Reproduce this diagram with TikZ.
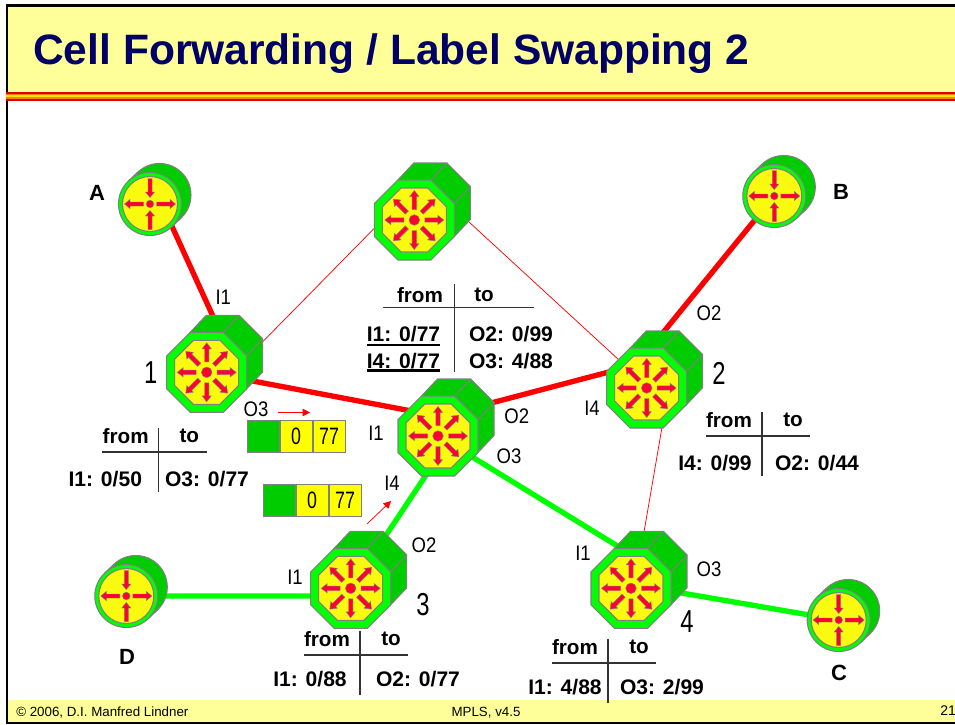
\documentclass[tikz,border=0pt]{standalone}
\usepackage{fontspec}
\setmainfont{Liberation Sans}
\newfontfamily\portfont[FakeStretch=0.88]{Liberation Sans}
\newfontfamily\numfont[FakeStretch=0.75]{Liberation Sans}
\usetikzlibrary{calc}
\usetikzlibrary{arrows.meta}
\definecolor{slideyellow}{RGB}{255,255,153}
\definecolor{titleblue}{RGB}{0,0,102}
\definecolor{boxgreen}{RGB}{0,204,0}
\definecolor{ringgreen}{RGB}{0,255,0}
\definecolor{faceyellow}{RGB}{250,250,15}
\definecolor{cellyel}{RGB}{255,255,0}
\definecolor{linkred}{RGB}{255,0,0}
\definecolor{edgegray}{RGB}{128,128,128}
\definecolor{arrowred}{RGB}{255,0,51}
\tikzset{
  thicklink/.style={line width=4pt},
  thinlink/.style={line width=0.55pt,linkred},
  portlabel/.style={font=\portfont\fontsize{15.8}{16}\selectfont,inner sep=0pt},
  numlabel/.style={font=\numfont\fontsize{23.8}{24}\selectfont,inner sep=0pt},
  hostlabel/.style={font=\bfseries\fontsize{16.5}{16}\selectfont,inner sep=0pt},
  tablehead/.style={font=\bfseries\fontsize{15.5}{15}\selectfont,inner sep=0pt},
  tablerow/.style={font=\bfseries\fontsize{15.8}{16}\selectfont,inner sep=0pt},
  tableline/.style={line width=0.8pt,black!80},
  cellgreen/.style={draw=edgegray,fill=boxgreen,line width=0.7pt,minimum width=24pt,minimum height=24pt,inner sep=0pt},
  cellyellow/.style={draw=edgegray,fill=cellyel,line width=0.7pt,minimum width=24pt,minimum height=24pt,inner sep=0pt,font=\numfont\fontsize{17.8}{18}\selectfont},
  footer/.style={font=\fontsize{10}{10}\selectfont,inner sep=0pt},
  arrowpart/.style={fill=arrowred,draw=edgegray,line width=0.35pt},
  swface/.pic={
    % back of the box
    \fill[boxgreen,draw=edgegray,line width=0.8pt]
      (-16.5,-40) -- (-0.5,-57) -- (32.5,-57) -- (56,-33.5) -- (56,-0.5) -- (40,16.5) -- (40,-16.5) -- (16.5,-40) -- cycle;
    \draw[edgegray,line width=0.8pt] (16.5,-40) -- (32.5,-57) (40,-16.5) -- (56,-33.5);
    % front ring
    \fill[ringgreen,draw=edgegray,line width=0.8pt]
      (-16.5,-40) -- (16.5,-40) -- (40,-16.5) -- (40,16.5) -- (16.5,40) -- (-16.5,40) -- (-40,16.5) -- (-40,-16.5) -- cycle;
    \fill[faceyellow,draw=edgegray,line width=0.8pt]
      (-13.2,-32) -- (13.2,-32) -- (32,-13.2) -- (32,13.2) -- (13.2,32) -- (-13.2,32) -- (-32,13.2) -- (-32,-13.2) -- cycle;
    \foreach \ang in {0,45,...,315}{
      \begin{scope}[rotate=\ang]
        \path[arrowpart]
          (10.5,-2.2) -- (23.5,-2.2) -- (23.5,-4.6) -- (29.5,0) -- (23.5,4.6) -- (23.5,2.2) -- (10.5,2.2) -- cycle;
      \end{scope}
    }
    \path[arrowpart] (0,0) circle (5.3);
  },
  hostface/.pic={
    \fill[boxgreen] (21.7,22.9) -- (31.2,13.9) -- (-12.2,-31.9) -- (-21.7,-22.9) -- cycle;
    \fill[boxgreen,draw=edgegray,line width=0.8pt] (9.5,-9) circle (31.5);
    \draw[edgegray,line width=0.8pt] (21.7,22.9) -- (31.2,13.9) (-12.2,-31.9) -- (-21.7,-22.9);
    \fill[ringgreen,draw=edgegray,line width=0.8pt] (0,0) circle (31.5);
    \fill[faceyellow,draw=edgegray,line width=0.8pt] (0,0) circle (27.5);
    \foreach \ang in {0,180}{
      \begin{scope}[rotate=\ang]
        \path[arrowpart]
          (6.5,-2) -- (20,-2) -- (20,-4.5) -- (25.5,0) -- (20,4.5) -- (20,2) -- (6.5,2) -- cycle;
      \end{scope}
    }
    \foreach \ang in {90,270}{
      \begin{scope}[rotate=\ang]
        \path[arrowpart]
          (25.5,-2) -- (12,-2) -- (12,-4.5) -- (6.5,0) -- (12,4.5) -- (12,2) -- (25.5,2) -- cycle;
      \end{scope}
    }
    \path[arrowpart] (0,0) circle (3.8);
  }
}
\begin{document}
\begin{tikzpicture}[x=0.75pt,y=-0.75pt]
  \useasboundingbox (0,0) rectangle (955,724);
  \fill[white] (0,0) rectangle (955,724);

  % slide
  \fill[slideyellow] (7,5) rectangle (955,92);
  \fill[slideyellow] (7,700) rectangle (955,722);
  \fill[black] (6,4) rectangle (955,6.7);
  \fill[black] (6,4) rectangle (8,724);
  \fill[black] (6,721.6) rectangle (955,724);
  \fill[linkred!85!black] (6,92) rectangle (955,100.7);
  \fill[orange] (6,93.7) rectangle (955,99);
  \fill[cellyel!80!orange] (6,95.3) rectangle (955,97.3);

  \node (title) [anchor=west,inner sep=0pt,text=titleblue,font=\bfseries\fontsize{31.9}{32}\selectfont] at (33,54) {Cell Forwarding / Label Swapping 2};
  \node (copy) [footer,anchor=west] at (16,713) {© 2006, D.I. Manfred Lindner};
  \node (version) [footer,anchor=center] at (486,713) {MPLS, v4.5};
  \node (page) [anchor=west,inner sep=0pt,font=\fontsize{10.5}{11}\selectfont] at (940,711) {21};

  % positions
  \coordinate (hostA) at (150,204);
  \coordinate (hostB) at (774.3,196);
  \coordinate (hostC) at (838.7,620);
  \coordinate (hostD) at (126.3,596);
  \coordinate (sw0) at (414.3,220);
  \coordinate (sw1) at (206.7,372.3);
  \coordinate (sw2) at (646.7,388);
  \coordinate (sw3) at (350.7,588.3);
  \coordinate (sw4) at (631,588.3);
  \coordinate (swM) at (438,436);

  % links
  \draw[thinlink] ($(sw0)+(-24,-8)$) -- ($(sw1)+(24,2)$);
  \draw[thinlink] ($(sw0)+(46,-6)$) -- ($(sw2)+(-6,-8)$);
  \draw[thinlink] ($(sw2)+(20,12)$) -- ($(sw4)+(9,-33)$);
  \draw[thicklink,linkred] ($(hostA)+(10,-4)$) -- ($(sw1)+(24,-17)$);
  \draw[thicklink,linkred] (sw1) -- ($(swM)+(0,-20)$);
  \draw[thicklink,linkred] ($(swM)+(0,-19)$) -- ($(sw2)+(0,-26)$);
  \draw[thicklink,linkred] ($(sw2)+(-6,-28)$) -- (hostB);
  \draw[thicklink,ringgreen] ($(swM)+(14,0)$) -- (sw3);
  \draw[thicklink,ringgreen] ($(sw3)+(0,7.7)$) -- (hostD);
  \draw[thicklink,ringgreen] (swM) -- ($(sw4)+(0,-34)$);
  \draw[thicklink,ringgreen] ($(sw4)+(0,-4)$) -- (hostC);

  % devices
  \pic at (hostA) {hostface};
  \pic at (hostB) {hostface};
  \pic at (hostC) {hostface};
  \pic at (hostD) {hostface};
  \pic at (sw0) {swface};
  \pic at (sw1) {swface};
  \pic at (sw2) {swface};
  \pic at (sw3) {swface};
  \pic at (sw4) {swface};
  \pic at (swM) {swface};

  % device labels
  \node (labA) [hostlabel] at (97,193) {A};
  \node (labB) [hostlabel] at (841,192) {B};
  \node (labC) [hostlabel] at (839,673) {C};
  \node (labD) [hostlabel] at (127,657) {D};
  \node (num1) [numlabel] at (150.7,373) {1};
  \node (num2) [numlabel] at (719,373) {2};
  \node (num3) [numlabel] at (423,605) {3};
  \node (num4) [numlabel] at (687,622) {4};

  % port labels
  \node (p1a) [portlabel] at (223.3,297) {I1};
  \node (p1b) [portlabel] at (256,409) {O3};
  \node (p2a) [portlabel] at (709,313) {O2};
  \node (p2b) [portlabel] at (592,408) {I4};
  \node (pMa) [portlabel] at (376,433) {I1};
  \node (pMb) [portlabel] at (516.7,416.7) {O2};
  \node (pMc) [portlabel] at (509,456) {O3};
  \node (pMd) [portlabel] at (392,483) {I4};
  \node (p3a) [portlabel] at (295,577) {I1};
  \node (p3b) [portlabel] at (424,545) {O2};
  \node (p4a) [portlabel] at (583,553) {I1};
  \node (p4b) [portlabel] at (709,569) {O3};

  % cells
  \node (cellAg) [cellgreen,anchor=north west] at (246.7,420) {};
  \node (cellAa) [cellyellow,anchor=west] at (cellAg.east) {0};
  \node (cellAb) [cellyellow,anchor=west] at (cellAa.east) {77};
  \node (cellBg) [cellgreen,anchor=north west] at (262.7,484) {};
  \node (cellBa) [cellyellow,anchor=west] at (cellBg.east) {0};
  \node (cellBb) [cellyellow,anchor=west] at (cellBa.east) {77};
  \coordinate (arrAs) at (278,412.5);
  \coordinate (arrAe) at (310,412.5);
  \coordinate (arrBs) at (367,524);
  \coordinate (arrBe) at (391,501);
  \draw[thinlink,-{Triangle[length=5.5pt,width=5.5pt]}] (arrAs) -- (arrAe);
  \draw[thinlink,-{Triangle[length=5.5pt,width=5.5pt]}] (arrBs) -- (arrBe);

  % tables
  \node (tf1) [tablehead] at (125.7,436) {from};
  \node (tt1) [tablehead] at (189.3,436) {to};
  \node (tl1) [tablerow] at (105.3,479) {I1: 0/50};
  \node (tr1) [tablerow] at (207,479) {O3: 0/77};
  \draw[tableline] (158.3,428) -- (158.3,491.7);
  \draw[tableline] (102.3,452) -- (206.7,452);

  \node (tf0) [tablehead] at (420,295) {from};
  \node (tt0) [tablehead] at (484,295) {to};
  \node (tl0) [tablerow] at (403.5,334) {I1: 0/77};
  \node (tr0) [tablerow] at (511,334) {O2: 0/99};
  \node (tm0) [tablerow] at (403.5,361) {I4: 0/77};
  \node (ts0) [tablerow] at (511,361) {O3: 4/88};
  \draw[tableline] (454.7,284) -- (454.7,372);
  \draw[tableline] (382.7,307.7) -- (534,307.7);
  \draw[line width=1.9pt] (tl0.west |- 0,345) -- (tl0.east |- 0,345);
  \draw[line width=1.9pt] (tm0.west |- 0,370.5) -- (tm0.east |- 0,370.5);

  \node (tf2) [tablehead] at (729,420) {from};
  \node (tt2) [tablehead] at (793,420) {to};
  \node (tl2) [tablerow] at (715,463) {I4: 0/99};
  \node (tr2) [tablerow] at (817,463) {O2: 0/44};
  \draw[tableline] (762,412) -- (762,476);
  \draw[tableline] (706,436) -- (810,436);

  \node (tf3) [tablehead] at (327,639) {from};
  \node (tt3) [tablehead] at (391,639) {to};
  \node (tl3) [tablerow] at (310,679) {I1: 0/88};
  \node (tr3) [tablerow] at (418,679) {O2: 0/77};
  \draw[tableline] (360,631) -- (360,695);
  \draw[tableline] (304,655) -- (408,655);

  \node (tf4) [tablehead] at (575,647) {from};
  \node (tt4) [tablehead] at (639,647) {to};
  \node (tl4) [tablerow] at (565,687) {I1: 4/88};
  \node (tr4) [tablerow] at (662,687) {O3: 2/99};
  \draw[tableline] (608,639) -- (608,703);
  \draw[tableline] (552,663) -- (656,663);
\end{tikzpicture}
\end{document}
